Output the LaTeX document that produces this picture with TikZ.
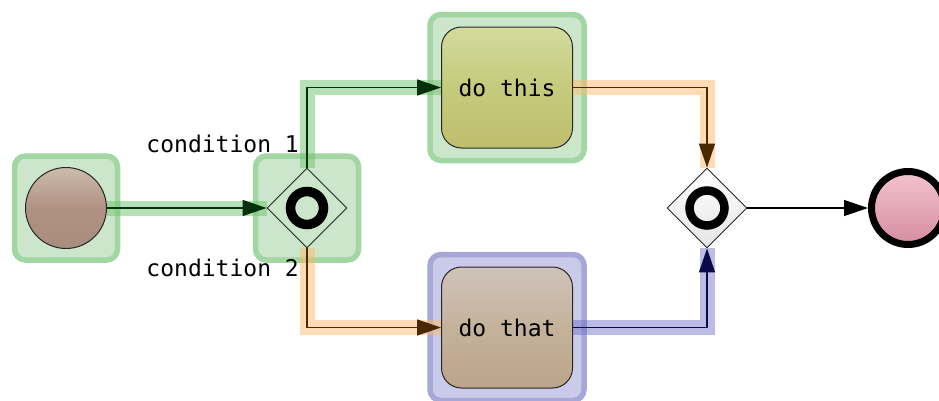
\documentclass[tikz,border=0pt]{standalone}
\usepackage{fontspec}
\newfontfamily\monofont{DejaVu Sans Mono}
\usetikzlibrary{shapes.geometric,arrows.meta}
\definecolor{hlgreenfill}{HTML}{CCE6CC}
\definecolor{hlgreendraw}{HTML}{A2D6A2}
\definecolor{hlbluefill}{HTML}{CACAEA}
\definecolor{hlbluedraw}{HTML}{A8A8D8}
\definecolor{bandgreen}{RGB}{110,195,110}
\definecolor{bandorange}{RGB}{255,185,110}
\definecolor{bandblue}{RGB}{105,105,200}
\definecolor{lngreen}{HTML}{06300A}
\definecolor{lnbrown}{HTML}{4A2800}
\definecolor{lnblue}{HTML}{0A0A48}
\tikzset{
  hlbox/.style={rectangle,rounded corners=11pt,line width=5.5pt,inner sep=0pt},
  hlgreen/.style={hlbox,fill=hlgreenfill,draw=hlgreendraw},
  hlblue/.style={hlbox,fill=hlbluefill,draw=hlbluedraw},
  task/.style={rectangle,rounded corners=20pt,draw=black!85,line width=1pt,
    minimum width=131pt,minimum height=121pt,inner sep=0pt,
    font=\monofont\fontsize{23}{27}\selectfont},
  gw/.style={diamond,draw=black!85,line width=0.9pt,minimum width=80pt,minimum height=80pt,inner sep=0pt},
  lbl/.style={font=\monofont\fontsize{23}{27}\selectfont,inner sep=0pt},
  band/.style={line width=15pt},
  flow/.style={line width=1.5pt,-{Triangle[length=24pt,width=16pt]}},
}
\begin{document}
\begin{tikzpicture}[x=1pt,y=-1pt]
\useasboundingbox (0,0) rectangle (939,400);
% highlight boxes
\node[hlgreen,minimum width=103pt,minimum height=104pt] (hlstart) at (66,208) {};
\node[hlgreen,minimum width=103pt,minimum height=104pt] (hlgw) at (307,208) {};
\node[hlgreen,minimum width=154pt,minimum height=146pt] (hlthis) at (507,87.5) {};
\node[hlblue,minimum width=154pt,minimum height=146pt] (hlthat) at (507,327.5) {};
% nodes
\node[circle,draw=black!85,line width=1pt,minimum size=81pt,inner sep=0pt,
  top color={rgb,255:red,203;green,188;blue,173},bottom color={rgb,255:red,168;green,140;blue,125},
  middle color={rgb,255:red,176;green,146;blue,130}] (start) at (66,208) {};
\node[gw,fill=hlgreenfill] (gwa) at (307,208) {};
\node[circle,draw=black,line width=9.5pt,minimum size=33pt,inner sep=0pt] (ringa) at (307,208) {};
\node[task,top color={rgb,255:red,211;green,219;blue,158},bottom color={rgb,255:red,190;green,190;blue,110},middle color={rgb,255:red,198;green,202;blue,124}] (dothis) at (507,87.5) {do this};
\node[task,top color={rgb,255:red,207;green,195;blue,185},bottom color={rgb,255:red,188;green,165;blue,138},middle color={rgb,255:red,196;green,178;blue,155}] (dothat) at (507,327.5) {do that};
\node[gw,top color=white,bottom color=black!10] (gwb) at (707,208) {};
\node[circle,draw=black,line width=8.5pt,minimum size=35pt,inner sep=0pt] (ringb) at (707,208) {};
\node[circle,draw=black,line width=7pt,minimum size=73pt,inner sep=0pt,
  top color={rgb,255:red,243;green,196;blue,206},bottom color={rgb,255:red,214;green,140;blue,160}] (end) at (908,208) {};
% bands
\begin{scope}[opacity=0.5]
\draw[band,bandgreen] (start.east) -- (gwa.west);
\draw[band,bandgreen] (gwa.north) |- (dothis.west);
\end{scope}
\begin{scope}[opacity=0.5]
\draw[band,bandorange] (gwa.south) |- (dothat.west);
\draw[band,bandorange] (dothis.east) -| (gwb.north);
\end{scope}
\begin{scope}[opacity=0.45]
\draw[band,bandblue] (dothat.east) -| (gwb.south);
\end{scope}
% flows
\draw[flow,lngreen] (start) -- (gwa);
\draw[flow,lngreen] (gwa.north) |- (dothis.west);
\draw[flow,lnbrown] (gwa.south) |- (dothat.west);
\draw[flow,lnbrown] (dothis.east) -| (gwb.north);
\draw[flow,lnblue] (dothat.east) -| (gwb.south);
\draw[flow,black,line width=1.2pt] (gwb.east) -- (end.west);
% labels
\node[lbl,anchor=base east] (c1) at (299,152) {condition 1};
\node[lbl,anchor=base east] (c2) at (299,276) {condition 2};
\end{tikzpicture}
\end{document}
